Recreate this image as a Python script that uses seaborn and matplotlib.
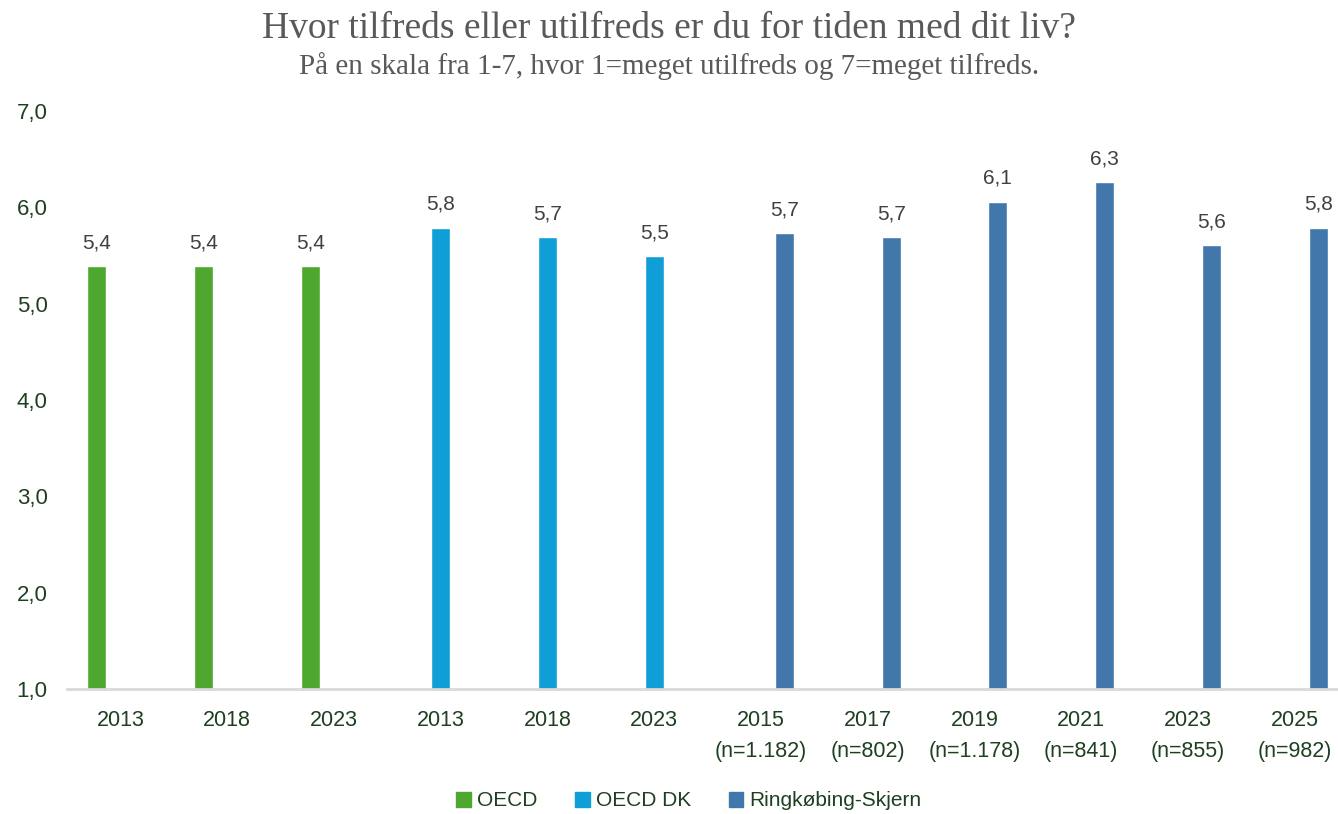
import pandas as pd
import numpy as np
import matplotlib.pyplot as plt
import seaborn as sns

# Data
oecd_years = ["2013", "2018", "2023"]
oecd_values = [5.39, 5.39, 5.39]

oecd_dk_years = ["2013", "2018", "2023"]
oecd_dk_values = [5.79, 5.69, 5.49]

rks_years = ["2015\n(n=1.182)", "2017\n(n=802)", "2019\n(n=1.178)",
             "2021\n(n=841)", "2023\n(n=855)", "2025\n(n=982)"]
rks_values = [5.73, 5.69, 6.06, 6.26, 5.61, 5.79]

series_names = ["OECD", "OECD DK", "Ringkøbing-Skjern"]
colors = ["#4EA72E", "#0F9ED5", "#4177AA"]

# Build a long table, each category gets its own key (year labels repeat)
rows = []
tick_labels = []
for name, years, vals in zip(series_names,
                             [oecd_years, oecd_dk_years, rks_years],
                             [oecd_values, oecd_dk_values, rks_values]):
    for y, v in zip(years, vals):
        key = f"c{len(tick_labels)}"
        tick_labels.append(y)
        rows.append({"cat": key, "series": name, "value": v})
df = pd.DataFrame(rows)
order = list(df["cat"])

sns.set_style("white")
plt.rcParams['font.family'] = ['Liberation Sans', 'DejaVu Sans']

fig = plt.figure(figsize=(13.38, 8.14), dpi=100)
ax = fig.add_axes([67 / 1338, 125 / 814, 1281 / 1338, 578 / 814])

sns.barplot(data=df, x="cat", y="value", hue="series", order=order,
            hue_order=series_names, palette=colors, dodge=True,
            width=0.66, gap=0.19, ax=ax, legend=False, saturation=1)

ax.set_ylim(1, 7)
ax.set_xlim(-0.5, len(order) - 0.5)
ax.set_yticks(np.arange(1, 8))
tick_font = ['Liberation Sans Narrow', 'Liberation Sans', 'DejaVu Sans']
green_txt = "#1E3F20"
ax.set_yticklabels([f"{t:.1f}".replace(".", ",") for t in np.arange(1, 8)],
                   family=tick_font, fontsize=16, color=green_txt)
ax.set_xticks(range(len(order)))
ax.set_xticklabels(tick_labels, family=tick_font, fontsize=15.5, color=green_txt,
                   linespacing=1.65)
ax.tick_params(axis="both", length=0)
ax.tick_params(axis="x", pad=15)
ax.tick_params(axis="y", pad=14)
ax.set_xlabel("")
ax.set_ylabel("")

for s in ["top", "right", "left"]:
    ax.spines[s].set_visible(False)
ax.spines["bottom"].set_color("#D9D9D9")
ax.spines["bottom"].set_linewidth(2)

for cont in ax.containers:
    labels = [f"{b.get_height():.1f}".replace(".", ",") if b.get_height() > 0 else ""
              for b in cont]
    ax.bar_label(cont, labels=labels, padding=10, fontsize=15, color="#404040")

fig.text(0.5, 1 - 29 / 814, "Hvor tilfreds eller utilfreds er du for tiden med dit liv?",
         ha="center", va="center", fontsize=27, color="#595959",
         family=['Liberation Serif', 'DejaVu Serif'])
fig.text(0.5, 1 - 66 / 814,
         "På en skala fra 1-7, hvor 1=meget utilfreds og 7=meget tilfreds.",
         ha="center", va="center", fontsize=21, color="#595959",
         family=['Liberation Serif', 'DejaVu Serif'])

handles = [plt.Rectangle((0, 0), 1, 1, color=c) for c in colors]
fig.legend(handles, series_names, loc="center", bbox_to_anchor=(0.515, 1 - 801 / 814),
           ncol=3, frameon=False, handlelength=0.7, handleheight=0.7,
           handletextpad=0.3, columnspacing=1.8,
           prop={"family": tick_font, "size": 15}, labelcolor=green_txt)

fig.savefig("out.png", dpi=100)
